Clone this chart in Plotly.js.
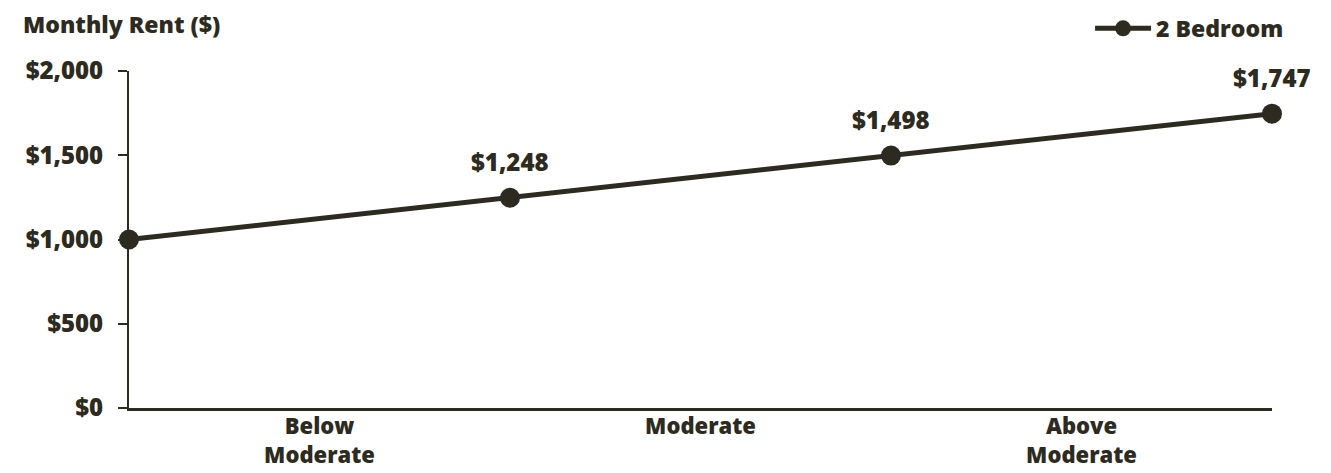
<!DOCTYPE html>
<html>
<head>
<meta charset="utf-8">
<script src="https://cdn.plot.ly/plotly-3.0.1.min.js"></script>
<style>html,body{margin:0;padding:0;background:#fff;}#chart{width:1331px;height:473px;}</style>
</head>
<body>
<div id="chart"></div>
<script>
const pointX = [0, 1, 2, 3];
const rent = [1000, 1248, 1498, 1747];
const pointLabels = ['', '$1,248', '$1,498', '$1,747'];
const tickPositions = [0.5, 1.5, 2.5];
const tickLabels = ['Below<br>Moderate', 'Moderate', 'Above<br>Moderate'];
const seriesName = '2 Bedroom';
const yTitle = 'Monthly Rent ($)';

const dark = '#2d2a20';
const fontFam = '"Open Sans", "Noto Sans", sans-serif';
const fnt = (s) => ({family: fontFam, size: s, color: dark, weight: 800});

const annotations = [];
pointX.forEach((x, i) => {
  if (pointLabels[i]) {
    annotations.push({x: x, y: rent[i], xref: 'x', yref: 'y', text: pointLabels[i],
      showarrow: false, yshift: 36, font: fnt(24)});
  }
});
annotations.push({x: 0, y: 1, xref: 'paper', yref: 'paper', xanchor: 'left', yanchor: 'middle',
  xshift: -108, yshift: 47, text: yTitle, showarrow: false, font: fnt(23)});

const trace = {
  x: pointX, y: rent, type: 'scatter', mode: 'lines+markers', name: seriesName,
  line: {color: dark, width: 5},
  marker: {color: dark, size: 20},
  cliponaxis: false
};

const layout = {
  width: 1331, height: 473,
  margin: {l: 129, r: 59, t: 71, b: 65},
  paper_bgcolor: '#fff', plot_bgcolor: '#fff',
  font: fnt(23),
  showlegend: true,
  legend: {xref: 'container', yref: 'container', x: 0.9685, xanchor: 'right', y: 0.94, yanchor: 'middle', orientation: 'h',
    itemwidth: 56, font: fnt(23), bgcolor: 'rgba(0,0,0,0)'},
  xaxis: {range: [0, 3], tickvals: tickPositions, ticktext: tickLabels,
    showline: true, linecolor: dark, linewidth: 3, ticks: '', showgrid: false, zeroline: false,
    ticklabelstandoff: -3,
    tickfont: fnt(22), fixedrange: true},
  yaxis: {range: [0, 2000], dtick: 500, tickprefix: '$', tickformat: ',d',
    showline: true, linecolor: dark, linewidth: 2, ticks: 'outside', ticklen: 9, tickwidth: 2, tickcolor: dark,
    showgrid: false, zeroline: false, ticklabelstandoff: 10,
    tickfont: fnt(24), fixedrange: true},
  annotations: annotations
};

Plotly.newPlot('chart', [trace], layout, {displayModeBar: false, staticPlot: true});
</script>
</body>
</html>
